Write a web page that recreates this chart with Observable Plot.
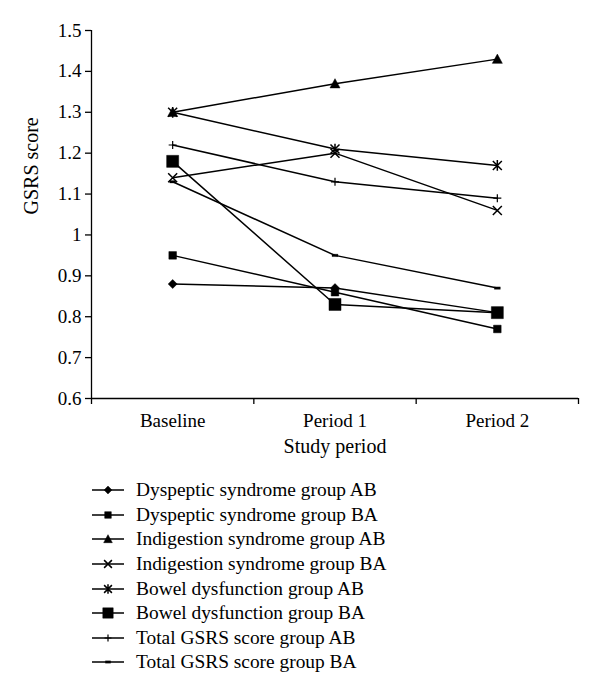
<!DOCTYPE html>
<html><head><meta charset="utf-8">
<script src="https://cdn.jsdelivr.net/npm/d3@7"></script>
<script src="https://cdn.jsdelivr.net/npm/@observablehq/plot@0.6"></script>
<style>
body{margin:0;background:#fff;font-family:"Liberation Serif",serif;color:#000;}
#legend{margin-left:92px;margin-top:8px}
.row{display:flex;align-items:center;height:24.6px;font-size:19.4px;white-space:nowrap}
.row svg{margin-right:11px;flex:none}
</style></head><body>
<div id="chart"></div><div id="legend"></div>
<script>
// ---- data ----
const periods = ["Baseline", "Period 1", "Period 2"];
const seriesNames = [
  "Dyspeptic syndrome group AB",
  "Dyspeptic syndrome group BA",
  "Indigestion syndrome group AB",
  "Indigestion syndrome group BA",
  "Bowel dysfunction group AB",
  "Bowel dysfunction group BA",
  "Total GSRS score group AB",
  "Total GSRS score group BA"
];
const dyspepticAB   = [0.88, 0.87, 0.81];
const dyspepticBA   = [0.95, 0.86, 0.77];
const indigestionAB = [1.30, 1.37, 1.43];
const indigestionBA = [1.14, 1.20, 1.06];
const bowelAB       = [1.30, 1.21, 1.17];
const bowelBA       = [1.18, 0.83, 0.81];
const totalAB       = [1.22, 1.13, 1.09];
const totalBA       = [1.13, 0.95, 0.87];
const yTicks = [0.6, 0.7, 0.8, 0.9, 1.0, 1.1, 1.2, 1.3, 1.4, 1.5];

// ---- marker shapes ----
const half = size => Math.sqrt(size / Math.PI);
const symDiamond = {draw(c, s){const h=half(s); c.moveTo(0,-h); c.lineTo(h,0); c.lineTo(0,h); c.lineTo(-h,0); c.closePath();}};
const symSquare  = {draw(c, s){const h=half(s); c.rect(-h,-h,2*h,2*h);}};
const symTri     = {draw(c, s){const h=half(s); c.moveTo(0,-h); c.lineTo(h,h*0.85); c.lineTo(-h,h*0.85); c.closePath();}};
const symTimes   = {draw(c, s){const h=half(s); c.moveTo(-h,-h); c.lineTo(h,h); c.moveTo(h,-h); c.lineTo(-h,h);}};
const symAst     = {draw(c, s){const h=half(s); c.moveTo(-h,-h); c.lineTo(h,h); c.moveTo(h,-h); c.lineTo(-h,h); c.moveTo(0,-h*1.2); c.lineTo(0,h*1.2);}};
const symPlus    = {draw(c, s){const h=half(s); c.moveTo(0,-h); c.lineTo(0,h); c.moveTo(-h,0); c.lineTo(h,0);}};
const symDash    = {draw(c, s){const h=half(s); c.rect(-h,-1.2,2*h,2.4);}};

const seriesValues = [dyspepticAB, dyspepticBA, indigestionAB, indigestionBA, bowelAB, bowelBA, totalAB, totalBA];
const seriesStyle = [
  {symbol: symDiamond, r: 4.5, sw: 0.5},
  {symbol: symSquare,  r: 3.8, sw: 0.5},
  {symbol: symTri,     r: 5,   sw: 0.5},
  {symbol: symTimes,   r: 4.5, sw: 1.5},
  {symbol: symAst,     r: 4.5, sw: 1.5},
  {symbol: symSquare,  r: 6,   sw: 0.5},
  {symbol: symPlus,    r: 4,   sw: 1.2},
  {symbol: symDash,    r: 3,   sw: 0.3}
];

const rows = seriesNames.flatMap((name, k) =>
  seriesValues[k].map((v, i) => ({series: name, k, period: i + 0.5, value: v})));

const chart = Plot.plot({
  width: 600,
  height: 470,
  marginLeft: 91,
  marginRight: 22,
  marginTop: 30,
  marginBottom: 72,
  style: {fontFamily: "Liberation Serif", fontSize: "19px", color: "black", background: "white"},
  x: {type: "linear", domain: [0, periods.length], label: null},
  y: {domain: [0.6, 1.5], label: null},
  marks: [
    Plot.axisX({ticks: d3.range(periods.length + 1), tickSize: 6, tickFormat: () => "", strokeWidth: 1.3, label: null}),
    Plot.axisX({ticks: periods.map((p, i) => i + 0.5), tickSize: 0, tickPadding: 15,
      tickFormat: d => periods[Math.floor(d)], fontSize: 19, label: null}),
    Plot.axisY({ticks: yTicks, tickSize: 6, tickPadding: 4, strokeWidth: 1.3,
      tickFormat: d => String(+d.toFixed(1)), fontSize: 19, label: null}),
    Plot.ruleY([0.6], {strokeWidth: 1.3}),
    Plot.ruleX([0], {y1: 0.6, y2: 1.5, strokeWidth: 1.3}),
    Plot.text(["GSRS score"], {frameAnchor: "left", rotate: -90, dx: -60, fontSize: 20}),
    Plot.text(["Study period"], {frameAnchor: "bottom", dy: 54, fontSize: 20}),
    Plot.line(rows, {x: "period", y: "value", z: "series", stroke: "black", strokeWidth: 1.5}),
    ...seriesStyle.map((st, k) => Plot.dot(rows.filter(d => d.k === k), {
      x: "period", y: "value", symbol: st.symbol, r: st.r,
      fill: "black", stroke: "black", strokeWidth: st.sw
    }))
  ]
});
document.getElementById("chart").appendChild(chart);

// ---- legend ----
const legend = d3.select("#legend");
seriesNames.forEach((name, k) => {
  const st = seriesStyle[k];
  const row = legend.append("div").attr("class", "row");
  const svg = row.append("svg").attr("width", 33).attr("height", 20);
  svg.append("line").attr("x1", 0).attr("x2", 32).attr("y1", 10).attr("y2", 10)
    .attr("stroke", "black").attr("stroke-width", 1.5);
  svg.append("path").attr("transform", "translate(16,10)")
    .attr("d", d3.symbol(st.symbol, Math.PI * st.r * st.r * 0.75)())
    .attr("fill", "black").attr("stroke", "black").attr("stroke-width", st.sw);
  row.append("span").text(name);
});
</script>
</body></html>
